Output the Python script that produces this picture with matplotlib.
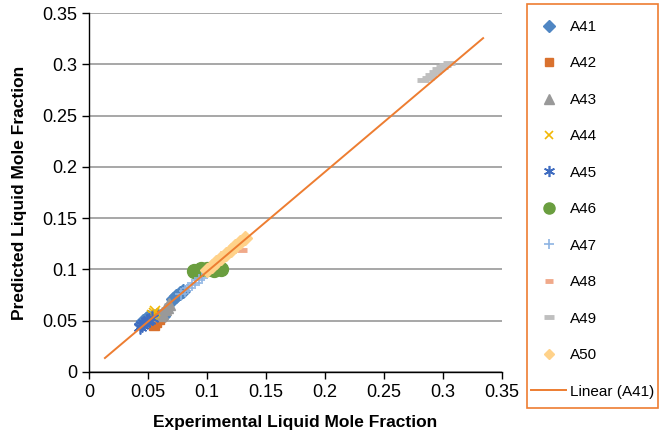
import matplotlib.pyplot as plt
import matplotlib.patches as mpatches
import numpy as np

plt.rcParams['font.family'] = ['Liberation Sans', 'DejaVu Sans']

# experimental (x) vs predicted (y) liquid mole fraction, per series
a41_x = [0.044, 0.046, 0.048, 0.050, 0.052, 0.054, 0.056, 0.058, 0.060, 0.063, 0.071, 0.074, 0.077, 0.080]
a41_y = [0.047, 0.050, 0.052, 0.054, 0.051, 0.055, 0.053, 0.056, 0.054, 0.055, 0.071, 0.074, 0.077, 0.079]
a42_x = [0.055, 0.057, 0.059, 0.061]
a42_y = [0.046, 0.049, 0.052, 0.055]
a43_x = [0.060, 0.062, 0.064, 0.066, 0.068]
a43_y = [0.056, 0.058, 0.061, 0.063, 0.066]
a44_x = [0.053, 0.055, 0.056]
a44_y = [0.056, 0.058, 0.059]
a45_x = [0.043, 0.045, 0.047, 0.049, 0.051, 0.053]
a45_y = [0.044, 0.046, 0.048, 0.050, 0.051, 0.053]
a46_x = [0.089, 0.095, 0.100, 0.106, 0.112]
a46_y = [0.098, 0.100, 0.100, 0.099, 0.100]
a47_x = [0.078, 0.081, 0.084, 0.087, 0.090, 0.093, 0.096]
a47_y = [0.076, 0.079, 0.082, 0.085, 0.087, 0.090, 0.092]
a48_x = [0.115, 0.120, 0.125, 0.130]
a48_y = [0.116, 0.118, 0.120, 0.119]
a49_x = [0.283, 0.287, 0.290, 0.293, 0.296, 0.299, 0.302, 0.305]
a49_y = [0.285, 0.287, 0.290, 0.292, 0.295, 0.297, 0.299, 0.301]
a50_x = [0.100, 0.104, 0.108, 0.112, 0.116, 0.120, 0.124, 0.128, 0.132]
a50_y = [0.099, 0.103, 0.107, 0.111, 0.115, 0.119, 0.123, 0.127, 0.131]

# trendline of A41 as drawn by the spreadsheet
trend_slope = 0.973
trend_icpt = 0.0005
trend_range = [0.0135, 0.334]

series = [
    ('A41', a41_x, a41_y, dict(marker='D', color='#4F86C3', ms=7.5)),
    ('A42', a42_x, a42_y, dict(marker='s', color='#D9712E', ms=7)),
    ('A43', a43_x, a43_y, dict(marker='^', color='#999999', ms=8.5)),
    ('A44', a44_x, a44_y, dict(marker='x', color='#F2B705', ms=7, mew=1.2)),
    ('A45', a45_x, a45_y, dict(marker=(6, 2, 0), color='#3F6CC0', ms=10, mew=1.2)),
    ('A46', a46_x, a46_y, dict(marker='o', color='#6A9E3F', ms=10)),
    ('A47', a47_x, a47_y, dict(marker='+', color='#8EB4E3', ms=9, mew=1.2)),
    ('A48', a48_x, a48_y, dict(marker='_', color='#F0A98A', ms=7, mew=3.5)),
    ('A49', a49_x, a49_y, dict(marker='_', color='#BFBFBF', ms=9, mew=3.5)),
    ('A50', a50_x, a50_y, dict(marker='D', color='#FFD28A', ms=7)),
]

fig = plt.figure(figsize=(6.59, 4.37), dpi=100)
ax = fig.add_axes([89 / 659, 1 - 372 / 437, 413 / 659, 359 / 437])

for name, xs, ys, st in series:
    st = dict(st)
    col = st.pop('color')
    ax.plot(xs, ys, ls='none', color=col, mec=col, mfc=col, label=name, zorder=3, **st)

tx = np.array(trend_range)
ax.plot(tx, trend_slope * tx + trend_icpt, color='#ED7D31', lw=1.4, label='Linear (A41)', zorder=4)

ax.set_xlim(0, 0.35)
ax.set_ylim(0, 0.35)
ticks = np.arange(0, 0.351, 0.05)
labels = ['0', '0.05', '0.1', '0.15', '0.2', '0.25', '0.3', '0.35']
ax.set_xticks(ticks)
ax.set_xticklabels(labels)
ax.set_yticks(ticks)
ax.set_yticklabels(labels)
ax.tick_params(labelsize=13, direction='out', length=5, width=1, color='black')
ax.grid(axis='y', color='#A0A0A0', lw=1.3)
ax.set_axisbelow(True)
for s in ['top', 'right']:
    ax.spines[s].set_visible(False)
for s in ['left', 'bottom']:
    ax.spines[s].set_color('black')
    ax.spines[s].set_linewidth(1)

ax.set_xlabel('Experimental Liquid Mole Fraction', fontsize=12.5, fontweight='bold', labelpad=10)
ax.set_ylabel('Predicted Liquid Mole Fraction', fontsize=12.5, fontweight='bold', labelpad=11)

# legend without its own frame; box drawn separately
leg = fig.legend(loc='upper left', bbox_to_anchor=(531 / 659, 1 - 20 / 437), fontsize=11,
                 frameon=False, labelspacing=1.47, handlelength=2.3, handletextpad=0.25,
                 borderpad=0, borderaxespad=0, markerscale=0.8)
box = mpatches.Rectangle((527 / 659, 1 - 408 / 437), 131 / 659, 404 / 437,
                         transform=fig.transFigure, fill=False, edgecolor='#ED7D31', lw=1.2)
fig.add_artist(box)

fig.savefig('out.png', dpi=100)
